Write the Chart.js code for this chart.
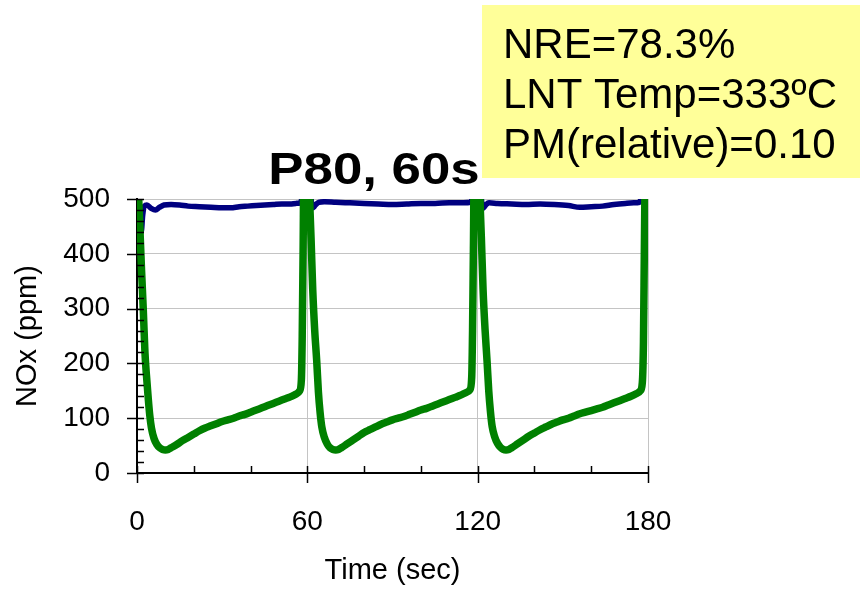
<!DOCTYPE html>
<html>
<head>
<meta charset="utf-8">
<script src="https://cdn.jsdelivr.net/npm/chart.js@4.4.0/dist/chart.umd.min.js"></script>
<style>
  html, body { margin: 0; padding: 0; background: #fff; }
  #wrap { width: 863px; height: 590px; }
</style>
</head>
<body>
<div id="wrap"><canvas id="myChart" width="863" height="590"></canvas></div>
<script>
// NOx outlet (green) - time in sec, ppm
const greenTime = [0, 0.5, 1.0, 1.6, 2.2, 2.8, 3.3, 3.9, 4.5, 5.1, 6, 7, 8, 9, 10, 11, 12, 14, 16, 18, 20, 22, 24, 26, 28, 30, 32, 34, 36, 38, 40, 42, 44, 46, 48, 50, 52, 54, 56, 57.3, 57.9, 58.2, 58.5, 58.8,
  60.3, 60.8, 61.3, 61.9, 62.6, 63.3, 63.9, 64.5, 65.1, 66, 67, 68, 69, 70, 71, 72, 74, 76, 78, 80, 82, 84, 86, 88, 90, 92, 94, 96, 98, 100, 102, 104, 106, 108, 110, 112, 114, 116, 117.3, 117.9, 118.2, 118.5, 118.8,
  120.3, 120.8, 121.3, 121.9, 122.6, 123.3, 123.9, 124.5, 125.1, 126, 127, 128, 129, 130, 131, 132, 134, 136, 138, 140, 142, 144, 146, 148, 150, 152, 154, 156, 158, 160, 162, 164, 166, 168, 170, 172, 174, 176, 177.3, 178, 178.4, 178.7, 179];
const greenNox = [540, 510, 450, 370, 300, 220, 180, 140, 105, 82, 63, 52, 46, 43, 42, 43, 46, 52, 59, 65, 71, 77, 82, 86, 90, 94, 97, 100, 104, 107, 111, 115, 119, 123, 127, 131, 135, 139, 144, 150, 170, 250, 400, 560,
  560, 500, 430, 335, 260, 205, 148, 110, 84, 65, 53, 46, 43, 42, 43, 46, 53, 60, 67, 74, 79, 84, 89, 93, 97, 100, 103, 107, 111, 115, 118, 122, 126, 130, 134, 138, 142, 147, 152, 175, 260, 410, 560,
  560, 500, 430, 335, 262, 205, 150, 112, 85, 66, 54, 47, 43, 42, 43, 46, 53, 60, 67, 73, 79, 84, 89, 93, 97, 100, 104, 108, 111, 114, 117, 120, 124, 128, 132, 136, 140, 145, 150, 165, 240, 400, 560];

// second trace (navy)
const blueTime = [0, 0.5, 1.0, 1.5, 2.0, 2.6, 3.5, 5, 6.5, 8, 9.5, 12, 15, 18, 22, 26, 30, 33, 36, 39, 42, 45, 48, 51, 54, 56, 57.5, 58.3, 59,
  60.5, 61.2, 61.8, 62.4, 63, 64, 66, 70, 75, 80, 85, 90, 95, 100, 105, 110, 115, 117.5, 118.3, 119,
  120.5, 121.2, 121.8, 122.4, 123, 124, 127, 132, 137, 142, 147, 152, 156, 160, 164, 168, 172, 175, 177, 177.8, 178.5, 178.8];
const blueNox = [520, 490, 450, 440, 470, 487, 489, 483, 480, 485, 489, 490, 489, 487, 486, 485, 484, 484, 486, 487, 488, 489, 490, 491, 491, 492, 493, 505, 520,
  520, 505, 484, 486, 490, 494, 495, 494, 493, 492, 491, 490, 491, 492, 492, 493, 493, 494, 505, 520,
  520, 505, 483, 486, 490, 493, 492, 491, 490, 491, 490, 488, 485, 486, 487, 490, 492, 493, 494, 510, 540, 560];

const xTicks = [0, 60, 120, 180];
const yTicks = [0, 100, 200, 300, 400, 500];
const chartTitle = 'P80, 60s';
const infoLines = ['NRE=78.3%', 'LNT Temp=333\u00BAC', 'PM(relative)=0.10'];

const FONT = '"Liberation Sans", Arial, sans-serif';

function toPoints(xs, ys) {
    return xs.map((x, i) => ({ x: x, y: ys[i] }));
}

// tick marks like the original: majors cross the axis, minors point inward
const tickMarks = {
    id: 'tickMarks',
    afterDatasetsDraw(chart) {
        const { ctx, chartArea, scales } = chart;
        ctx.save();
        ctx.strokeStyle = '#000';
        ctx.lineWidth = 1.5;
        ctx.beginPath();
        for (let v = 0; v <= 500; v += 20) {
            const y = Math.round(scales.y.getPixelForValue(v)) + 0.5;
            const major = v % 100 === 0;
            ctx.moveTo(chartArea.left - (major ? 10 : 0), y);
            ctx.lineTo(chartArea.left + 7, y);
        }
        for (let v = 0; v <= 180; v += 20) {
            const x = Math.round(scales.x.getPixelForValue(v)) + 0.5;
            const major = v % 60 === 0;
            ctx.moveTo(x, chartArea.bottom - 7);
            ctx.lineTo(x, chartArea.bottom + (major ? 10 : 0));
        }
        ctx.stroke();
        ctx.restore();
    }
};

// title and the yellow info box
const annotations = {
    id: 'annotations',
    afterDraw(chart) {
        const ctx = chart.ctx;
        ctx.save();
        ctx.fillStyle = '#000';
        ctx.font = 'bold 44px ' + FONT;
        ctx.textAlign = 'center';
        ctx.textBaseline = 'alphabetic';
        ctx.translate(374, 184);
        ctx.scale(1.2, 1);
        ctx.fillText(chartTitle, 0, 0);
        ctx.restore();

        ctx.save();
        ctx.fillStyle = '#ffff99';
        ctx.fillRect(482, 5, 378, 173);
        ctx.fillStyle = '#000';
        ctx.font = '42px ' + FONT;
        ctx.textAlign = 'left';
        ctx.textBaseline = 'alphabetic';
        infoLines.forEach((line, i) => {
            ctx.fillText(line, 503, 58 + i * 50);
        });
        ctx.restore();
    }
};

const ctx = document.getElementById('myChart').getContext('2d');
new Chart(ctx, {
    type: 'line',
    data: {
        datasets: [
            {
                label: 'NOx out',
                data: toPoints(greenTime, greenNox),
                borderColor: '#008000',
                borderWidth: 7.5,
                pointRadius: 0,
                cubicInterpolationMode: 'monotone',
                clip: 0
            },
            {
                label: 'NOx in',
                data: toPoints(blueTime, blueNox),
                borderColor: '#000080',
                borderWidth: 5.5,
                pointRadius: 0,
                cubicInterpolationMode: 'monotone',
                clip: 0
            }
        ]
    },
    options: {
        responsive: false,
        animation: false,
        layout: { padding: { top: 199, right: 215, left: 0, bottom: 0 } },
        plugins: {
            legend: { display: false },
            tooltip: { enabled: false }
        },
        scales: {
            x: {
                type: 'linear',
                min: 0,
                max: 180,
                afterBuildTicks: (scale) => { scale.ticks = xTicks.map(v => ({ value: v })); },
                afterFit: (scale) => { scale.height = 117; },
                ticks: {
                    color: '#000',
                    font: { family: FONT, size: 28 },
                    padding: 32,
                    maxRotation: 0
                },
                grid: { color: '#c4c4c4', lineWidth: 1, drawTicks: false },
                border: { color: '#000', width: 2 },
                title: {
                    display: true,
                    text: 'Time (sec)',
                    color: '#000',
                    font: { family: FONT, size: 29 },
                    padding: { top: 0, bottom: 2 }
                }
            },
            y: {
                min: 0,
                max: 500,
                afterBuildTicks: (scale) => { scale.ticks = yTicks.map(v => ({ value: v })); },
                afterFit: (scale) => { scale.width = 137; },
                ticks: {
                    color: '#000',
                    font: { family: FONT, size: 28 },
                    padding: 27
                },
                grid: { color: '#c4c4c4', lineWidth: 1, drawTicks: false },
                border: { color: '#000', width: 2 },
                title: {
                    display: true,
                    text: 'NOx (ppm)',
                    color: '#000',
                    font: { family: FONT, size: 29 },
                    padding: { top: 11, bottom: 0 }
                }
            }
        }
    },
    plugins: [tickMarks, annotations]
});
</script>
</body>
</html>
